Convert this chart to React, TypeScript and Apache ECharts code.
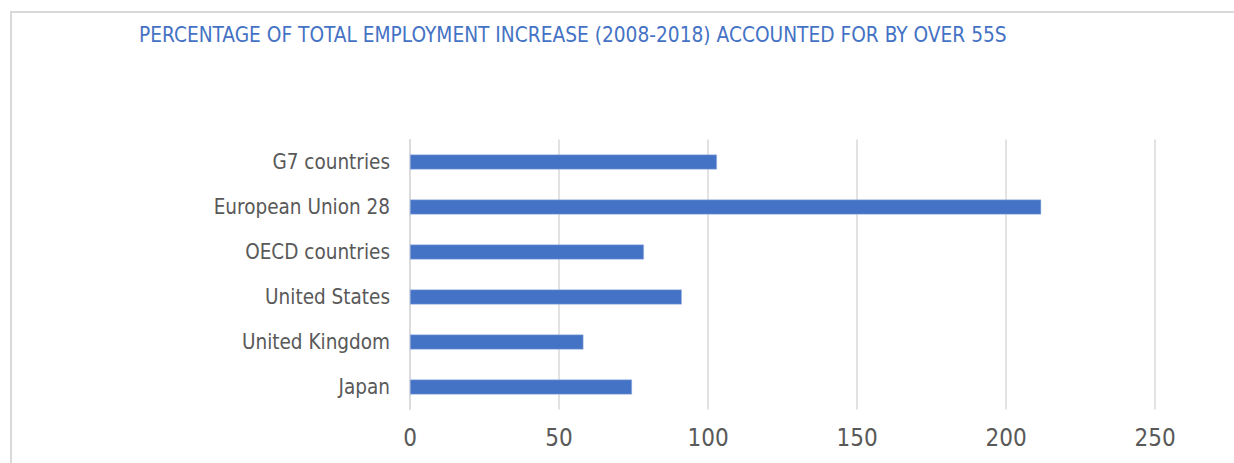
import React, { useEffect, useRef } from "react";
import * as echarts from "echarts";

const titleText =
  "PERCENTAGE OF TOTAL EMPLOYMENT INCREASE (2008-2018) ACCOUNTED FOR BY OVER 55S";
const categories = [
  "Japan",
  "United Kingdom",
  "United States",
  "OECD countries",
  "European Union 28",
  "G7 countries",
];
const values = [74.5, 58.2, 91.2, 78.5, 211.8, 103];
const axisMin = 0;
const axisMax = 250;
const axisInterval = 50;

const FONT = "'DejaVu Sans Condensed', 'DejaVu Sans', sans-serif";

export default function App() {
  const ref = useRef<HTMLDivElement>(null);
  useEffect(() => {
    document.body.style.margin = "0";
    if (!ref.current) return;
    const chart = echarts.init(ref.current, undefined, { renderer: "svg" });
    chart.setOption({
      animation: false,
      backgroundColor: "#ffffff",
      title: {
        text: titleText,
        left: 134,
        top: 19,
        textStyle: {
          color: "#4472C4",
          fontSize: 20.7,
          fontWeight: "normal",
          fontFamily: FONT,
        },
      },
      graphic: [
        {
          type: "rect",
          shape: { x: 11, y: 12, width: 1300, height: 500 },
          style: { fill: "none", stroke: "#d9d9d9", lineWidth: 2 },
          silent: true,
        },
      ],
      grid: { left: 410, right: 79, top: 139.5, bottom: 53.5, containLabel: false },
      xAxis: {
        type: "value",
        min: axisMin,
        max: axisMax,
        interval: axisInterval,
        axisLine: { show: false },
        axisTick: { show: false },
        splitLine: { show: true, lineStyle: { color: "#d9d9d9", width: 1.5 } },
        axisLabel: {
          color: "#595959",
          fontSize: 24,
          fontFamily: FONT,
          margin: 16,
        },
      },
      yAxis: {
        type: "category",
        data: categories,
        axisLine: { show: true, lineStyle: { color: "#d9d9d9", width: 1.5 } },
        axisTick: { show: false },
        axisLabel: {
          color: "#595959",
          fontSize: 20.5,
          fontFamily: FONT,
          margin: 20,
        },
      },
      series: [
        {
          type: "bar",
          data: values,
          barWidth: 15,
          itemStyle: { color: "#4472C4", borderColor: "#a9bfe6", borderWidth: 0.5 },
        },
      ],
    });
    return () => chart.dispose();
  }, []);
  return <div ref={ref} style={{ width: 1234, height: 463 }} />;
}
